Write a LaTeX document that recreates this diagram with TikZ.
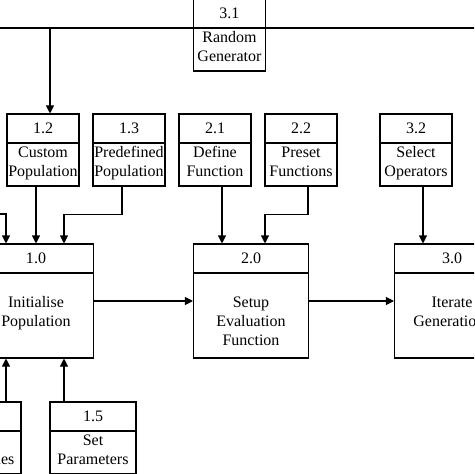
\documentclass[tikz,border=0pt]{standalone}
\usepackage{fontspec}
\setmainfont{Liberation Serif}
\usetikzlibrary{positioning, arrows.meta}

\begin{document}
\begin{tikzpicture}
    [
        node distance=64.5pt and 64.5pt, on grid, auto,
        font=\fontsize{12}{14.25}\selectfont,
        >={Triangle[length=6pt, width=6pt]},
        process_box/.style={rectangle, draw=black, line width=0.8pt, inner sep=0pt,
            path picture={\draw[line width=0.8pt] ([yshift=-21.75pt]path picture bounding box.north west) -- ([yshift=-21.75pt]path picture bounding box.north east);}},
        small_box/.style={process_box, minimum width=54pt, minimum height=54pt},
        wide_box/.style={process_box, minimum width=64.5pt, minimum height=54pt},
        big_box/.style={process_box, minimum width=86.25pt, minimum height=85.5pt},
        number_label/.style={anchor=center, inner sep=0pt, yshift=-10.9pt},
        small_text/.style={anchor=north, align=center, inner sep=0pt, yshift=-24.75pt},
        big_text/.style={anchor=north, align=center, inner sep=0pt, yshift=-39.75pt},
    ]
        \useasboundingbox (0,0) rectangle (355.5pt,-355.5pt) ;
        \clip (0,0) rectangle (355.5pt,-355.5pt) ;
        % top row
        \node[small_box, label={[number_label]north:{3.1}}, label={[small_text]north:{Random\\Generator}}] (p31) at (172.1pt,-26.25pt) {} ;
        \node[small_box, label={[number_label]north:{1.2}}, label={[small_text]north:{Custom\\Population}}] (p12) at (32.25pt,-112.5pt) {} ;
        \node[small_box, label={[number_label]north:{1.3}}, label={[small_text]north:{Predefined\\Population}}] (p13) [right = of p12] {} ;
        \node[small_box, label={[number_label]north:{2.1}}, label={[small_text]north:{Define\\Function}}] (p21) [right = of p13] {} ;
        \node[small_box, label={[number_label]north:{2.2}}, label={[small_text]north:{Preset\\Functions}}] (p22) [right = of p21] {} ;
        \node[small_box, label={[number_label]north:{3.2}}, label={[small_text]north:{Select\\Operators}}] (p32) [right = 86.25pt of p22] {} ;
        % main processes
        \node[big_box, label={[number_label]north:{1.0}}, label={[big_text]north:{Initialise\\Population}}] (p10) at (27pt,-225.75pt) {} ;
        \node[big_box, label={[number_label]north:{2.0}}, label={[big_text]north:{Setup\\Evaluation\\Function}}] (p20) [right = 161.25pt of p10] {} ;
        \node[big_box, label={[number_label]north:{3.0}}, label={[big_text]north:{Iterate\\Generations}}] (p30) [right = 150.75pt of p20] {} ;
        % bottom row
        \node[wide_box, label={[number_label]north:{1.5}}, label={[small_text]north:{Set\\Parameters}}] (p15) [below right = 102.75pt and 42.75pt of p10] {} ;
        \node[wide_box, label={[number_label]north:{1.4}}, label={[small_text]north:{Set\\Boundaries}}] (p14) [left = 86.25pt of p15] {} ;
        % free ends
        \coordinate (busw) at (-3pt,-21pt) ;
        \coordinate (buse) at (360pt,-21pt) ;
        \coordinate (in11) at (-3pt,-160.5pt) ;
        \draw[line width=0.8pt] (p31.west |- busw) -- (busw) ;
        \draw[line width=0.8pt] (p31.east |- buse) -- (buse) ;
        \draw[->, line width=0.8pt] ([xshift=5.25pt]p12.north |- busw) -- ([xshift=5.25pt]p12.north) ;
        \draw[->, line width=0.8pt] (in11) -| ([xshift=-22.5pt]p10.north) ;
        \draw[->, line width=0.8pt] ([xshift=-5.25pt]p12.south) -- (p10.north) ;
        \draw[->, line width=0.8pt] ([xshift=-5.25pt]p13.south) -- ++(0,-21pt) -| ([xshift=21pt]p10.north) ;
        \draw[->, line width=0.8pt] ([xshift=5.25pt]p21.south) -- ([xshift=5.25pt]p21.south |- p20.north) ;
        \draw[->, line width=0.8pt] ([xshift=5.25pt]p22.south) -- ++(0,-21pt) -| ([xshift=10.5pt]p20.north) ;
        \draw[->, line width=0.8pt] ([xshift=5.25pt]p32.south) -- ([xshift=5.25pt]p32.south |- p30.north) ;
        \draw[->, line width=0.8pt] (p10.east) -- (p20.west) ;
        \draw[->, line width=0.8pt] (p20.east) -- (p30.west) ;
        \draw[->, line width=0.8pt] ([xshift=-22.5pt]p10.south |- p14.north) -- ([xshift=-22.5pt]p10.south) ;
        \draw[->, line width=0.8pt] ([xshift=21pt]p10.south |- p15.north) -- ([xshift=21pt]p10.south) ;
    \end{tikzpicture}
\end{document}
